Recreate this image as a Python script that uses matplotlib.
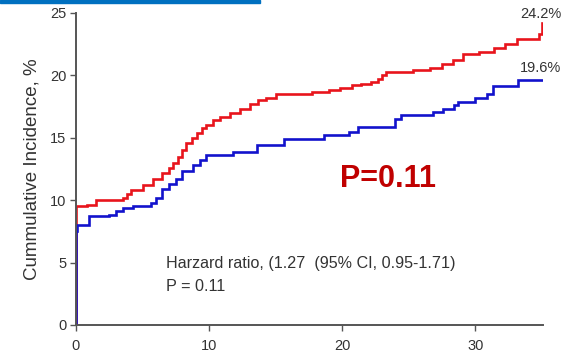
import matplotlib
matplotlib.use("Agg")
import matplotlib.pyplot as plt

plt.rcParams['font.family'] = ['Liberation Sans', 'DejaVu Sans']

# Cumulative incidence (%) over follow-up time, step curves
red_t = [0, 0, 0.8, 1.5, 3.5, 3.8, 4.1, 5.0, 5.8, 6.5, 7.0, 7.3, 7.7, 8.0, 8.3, 8.7,
         9.1, 9.5, 9.8, 10.3, 10.8, 11.6, 12.3, 13.1, 13.7, 14.3, 15.0, 17.7, 19.0,
         19.8, 20.7, 21.4, 22.2, 22.7, 23.0, 23.3, 25.3, 26.6, 27.5, 28.3, 29.1, 30.3,
         31.4, 32.2, 33.1, 34.8, 35.0]
red_v = [0, 9.5, 9.6, 10.0, 10.2, 10.5, 10.8, 11.2, 11.7, 12.2, 12.6, 13.0, 13.5, 14.0,
         14.6, 15.0, 15.4, 15.8, 16.0, 16.4, 16.7, 17.0, 17.3, 17.7, 18.0, 18.2, 18.5,
         18.7, 18.8, 19.0, 19.2, 19.35, 19.5, 19.7, 20.0, 20.3, 20.45, 20.6, 20.9, 21.2,
         21.7, 21.9, 22.2, 22.5, 22.9, 23.3, 24.2]

blue_t = [0, 0, 0.1, 1.0, 2.5, 3.0, 3.5, 4.3, 5.6, 6.0, 6.5, 7.0, 7.5, 8.0, 8.8, 9.3,
          9.8, 11.8, 13.6, 15.6, 18.6, 20.5, 21.2, 24.0, 24.4, 26.8, 27.6, 28.4, 28.7,
          30.0, 30.9, 31.3, 33.2, 35.0]
blue_v = [0, 7.5, 8.0, 8.7, 8.8, 9.1, 9.35, 9.5, 9.8, 10.2, 10.9, 11.3, 11.7, 12.3,
          12.8, 13.2, 13.6, 13.9, 14.4, 14.9, 15.2, 15.5, 15.9, 16.5, 16.8, 17.1, 17.3,
          17.6, 17.9, 18.2, 18.5, 19.15, 19.6, 19.6]

x_ticks = [0, 10, 20, 30]
y_ticks = [0, 5, 10, 15, 20, 25]

hr_line = "Harzard ratio, (1.27  (95% CI, 0.95-1.71)"
p_line = "P = 0.11"
p_big = "P=0.11"

RED = '#E8141C'
BLUE = '#1212CC'
GREY = '#333333'

fig = plt.figure(figsize=(5.67, 3.58), dpi=100)
ax = fig.add_axes([0.134, 0.0922, 0.824, 0.8715])

ax.plot(red_t, red_v, drawstyle='steps-post', color=RED, lw=1.9, solid_joinstyle='miter')
ax.plot(blue_t, blue_v, drawstyle='steps-post', color=BLUE, lw=1.9, solid_joinstyle='miter')

ax.set_xlim(0, 35.1)
ax.set_ylim(0, 25)
ax.set_xticks(x_ticks)
ax.set_yticks(y_ticks)
for s in ('top', 'right'):
    ax.spines[s].set_visible(False)
for s in ('left', 'bottom'):
    ax.spines[s].set_color('#555555')
    ax.spines[s].set_linewidth(1.4)
ax.tick_params(axis='both', colors='#555555', labelcolor=GREY, labelsize=10.5,
               length=4, width=1.0)
ax.tick_params(axis='x', pad=6)
ax.tick_params(axis='y', pad=3)

ax.set_ylabel("Cummulative Incidence, %", fontsize=13.5, color=GREY, labelpad=7)

# End-of-curve values
ax.annotate(f"{red_v[-1]:.1f}%", xy=(red_t[-1], red_v[-1]), xytext=(-1, 1.5),
            textcoords='offset points', ha='center', va='bottom',
            fontsize=10.5, color=GREY, annotation_clip=False)
ax.annotate(f"{blue_v[-1]:.1f}%", xy=(blue_t[-1], blue_v[-1]), xytext=(-1, 9),
            textcoords='offset points', ha='center', va='center',
            fontsize=10.5, color=GREY, annotation_clip=False)

ax.text(6.8, 4.9, hr_line, fontsize=11.6, color=GREY, ha='left', va='center')
ax.text(6.8, 3.1, p_line, fontsize=11.6, color=GREY, ha='left', va='center')
ax.text(19.85, 11.7, p_big, fontsize=22, color='#C00000', fontweight='bold',
        ha='left', va='center')

# Header band
fig.patches.append(plt.Rectangle((0, 1 - 3 / 358), 260 / 567, 3 / 358,
                                 transform=fig.transFigure, color='#0070C0',
                                 zorder=5))

fig.savefig('out.png', dpi=100)
